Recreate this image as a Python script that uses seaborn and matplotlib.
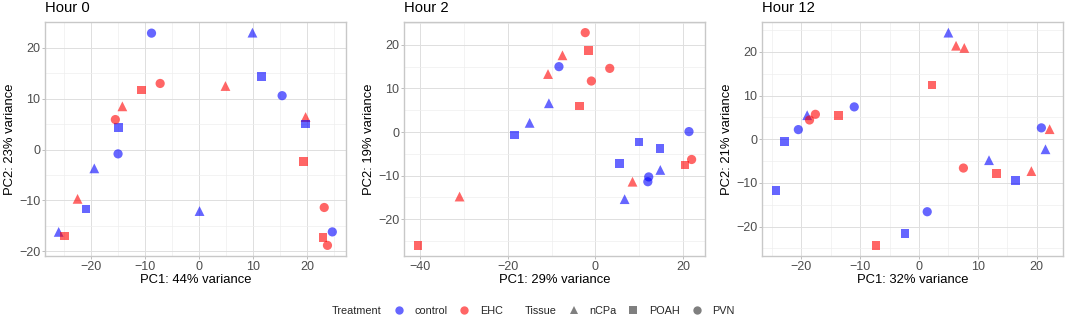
import numpy as np
import pandas as pd
import matplotlib
matplotlib.use("Agg")
import matplotlib.pyplot as plt
from matplotlib.lines import Line2D
from matplotlib.ticker import MultipleLocator
import seaborn as sns

# ---- data ----
h0_treat = ["control"] * 12 + ["EHC"] * 12
h0_tissue = (["PVN"] * 4 + ["nCPa"] * 4 + ["POAH"] * 4) * 2
h0_pc1 = [-8.8, 15.4, -15.0, 24.7, 9.9, -19.4, -26.0, 0.1, 11.6, -14.9, -20.9, 19.7,
          -7.2, -15.5, 23.2, 23.8, 4.9, -14.2, -22.5, 19.75, -10.7, -24.9, 19.4, 23.0]
h0_pc2 = [22.9, 10.6, -0.85, -16.2, 23.0, -3.7, -16.2, -12.1, 14.35, 4.3, -11.7, 5.0,
          13.0, 5.9, -11.4, -18.85, 12.5, 8.5, -9.7, 6.4, 11.7, -17.0, -2.35, -17.3]

h2_treat = ["control"] * 12 + ["EHC"] * 12
h2_tissue = (["PVN"] * 4 + ["nCPa"] * 4 + ["POAH"] * 4) * 2
h2_pc1 = [-8.3, 21.4, 12.2, 12.0, -10.6, -15.0, 14.85, 6.7, -18.5, 10.0, 14.8, 5.5,
          -2.3, 3.3, -0.9, 22.0, -7.5, -10.8, 8.5, -31.0, -1.5, -3.6, 20.5, -40.5]
h2_pc2 = [15.0, 0.1, -10.3, -11.4, 6.6, 2.1, -8.7, -15.4, -0.7, -2.3, -3.8, -7.2,
          22.8, 14.6, 11.7, -6.3, 17.6, 13.3, -11.4, -14.8, 18.7, 6.0, -7.6, -26.0]

h12_treat = ["control"] * 12 + ["EHC"] * 11
h12_tissue = ["PVN"] * 4 + ["nCPa"] * 4 + ["POAH"] * 4 + ["PVN"] * 3 + ["nCPa"] * 4 + ["POAH"] * 4
h12_pc1 = [-11.0, -20.5, 20.8, 1.4, 5.0, -19.0, 21.5, 11.9, -22.9, -24.3, 16.4, -2.4,
           -17.6, -18.6, 7.55, 6.3, 7.7, 22.2, 19.1, 2.2, -13.7, 13.2, -7.3]
h12_pc2 = [7.4, 2.2, 2.6, -16.6, 24.4, 5.5, -2.3, -4.8, -0.5, -11.8, -9.4, -21.6,
           5.7, 4.4, -6.6, 21.4, 20.9, 2.3, -7.3, 12.4, 5.4, -7.9, -24.3]

panels = [
    ("Hour 0", "PC1: 44% variance", "PC2: 23% variance", h0_treat, h0_tissue, h0_pc1, h0_pc2),
    ("Hour 2", "PC1: 29% variance", "PC2: 19% variance", h2_treat, h2_tissue, h2_pc1, h2_pc2),
    ("Hour 12", "PC1: 32% variance", "PC2: 21% variance", h12_treat, h12_tissue, h12_pc1, h12_pc2),
]

palette = {"control": "blue", "EHC": "red"}
markers = {"nCPa": "^", "POAH": "s", "PVN": "o"}
sizes = {"nCPa": 50, "POAH": 38, "PVN": 44}

sns.set_theme(style="white")
plt.rcParams["font.family"] = ["Liberation Sans", "DejaVu Sans"]

fig = plt.figure(figsize=(10.65, 3.18), dpi=100)
lefts = [45 / 1065, 404.3 / 1065, 762.3 / 1065]
W = 301 / 1065
B = (318 - 256) / 318
H = 234 / 318

for (title, xl, yl, tr, ti, x, y), left in zip(panels, lefts):
    ax = fig.add_axes([left, B, W, H])
    df = pd.DataFrame({"Treatment": tr, "Tissue": ti, "PC1": x, "PC2": y})
    for tis, mk in markers.items():
        sub = df[df["Tissue"] == tis]
        sns.scatterplot(data=sub, x="PC1", y="PC2", hue="Treatment", palette=palette,
                        marker=mk, s=sizes[tis], alpha=0.6, linewidth=0, ax=ax, legend=False)
    # ggplot-style expansion 5%
    xr = max(x) - min(x)
    yr = max(y) - min(y)
    ax.set_xlim(min(x) - 0.05 * xr, max(x) + 0.05 * xr)
    ax.set_ylim(min(y) - 0.05 * yr, max(y) + 0.05 * yr)
    major = 20 if title == "Hour 2" else 10
    ax.xaxis.set_major_locator(MultipleLocator(major))
    ax.xaxis.set_minor_locator(MultipleLocator(major / 2))
    ax.yaxis.set_major_locator(MultipleLocator(10))
    ax.yaxis.set_minor_locator(MultipleLocator(5))
    ax.grid(True, which="major", color="#DEDEDE", linewidth=0.7)
    ax.grid(True, which="minor", color="#EEEEEE", linewidth=0.5)
    ax.set_axisbelow(True)
    for sp in ax.spines.values():
        sp.set_color("#C8C8C8")
        sp.set_linewidth(1.0)
    ax.tick_params(which="major", length=2.0, width=0.6, color="#B3B3B3",
                   labelsize=9, labelcolor="#4D4D4D", pad=1.5, bottom=True, left=True)
    ax.tick_params(which="minor", length=0)
    ax.set_xlabel(xl, fontsize=9.4, color="black", labelpad=1)
    ax.set_ylabel(yl, fontsize=9.4, color="black", labelpad=2)
    ax.set_title(title, loc="left", fontsize=10.6, pad=7, color="black")

# legends
blank = Line2D([], [], linestyle="none", marker=None)
h1 = [blank] + [Line2D([], [], linestyle="none", marker="o", markersize=6, color=c,
                       alpha=0.6, markeredgewidth=0) for c in palette.values()]
l1 = ["Treatment"] + list(palette.keys())
h2 = [blank] + [Line2D([], [], linestyle="none", marker=mk, markersize=6, color="#7F7F7F",
                       markeredgewidth=0) for mk in markers.values()]
l2 = ["Tissue"] + list(markers.keys())

kw = dict(frameon=False, fontsize=7.8, handlelength=0.8, handletextpad=1.05,
          columnspacing=1.15, borderaxespad=0, borderpad=0, loc="center left")
fs_px = 7.8 / 72 * 100
off = (0.8 + 1.05) * fs_px
fig.legend(h1, l1, ncol=len(h1), bbox_to_anchor=((332 - off) / 1065, 0.022), **kw)
fig.legend(h2, l2, ncol=len(h2), bbox_to_anchor=((525 - off) / 1065, 0.022), **kw)

fig.savefig("out.png", dpi=100)
